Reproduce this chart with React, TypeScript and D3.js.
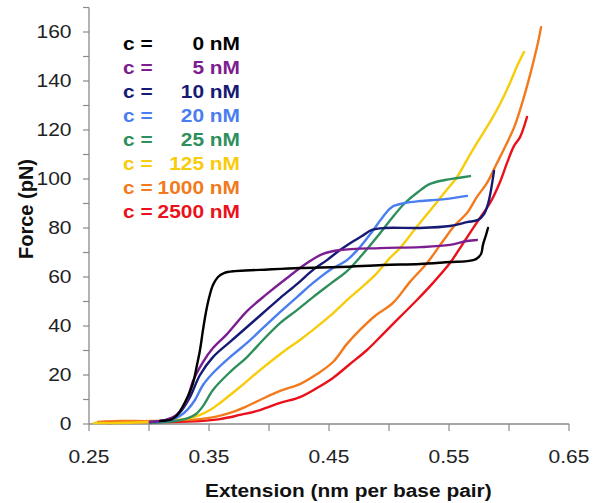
import React from "react";
import * as d3 from "d3";

type P = [number, number];

const seriesNames = ["0 nM", "5 nM", "10 nM", "20 nM", "25 nM", "125 nM", "1000 nM", "2500 nM"];
const seriesColors = ["#000000", "#7c1d91", "#161a74", "#4a7ef0", "#2e8f5c", "#f7cc0a", "#f27a1c", "#ea111b"];

const c0: P[] = [[0.3092,1.2],[0.3192,2.0],[0.3242,4.1],[0.3283,7.3],[0.3325,11.4],[0.3367,16.7],[0.34,24.1],[0.3425,30.2],[0.345,38.4],[0.3475,45.7],[0.35,51.4],[0.3533,56.7],[0.3575,60.0],[0.3625,61.6],[0.3717,62.4],[0.3925,62.9],[0.4258,63.7],[0.4592,64.1],[0.495,64.9],[0.5258,65.3],[0.5508,66.1],[0.565,66.5],[0.5725,67.3],[0.5767,69.4],[0.5783,73.1],[0.5808,77.1],[0.5825,80.0]];
const c5: P[] = [[0.3008,0.8],[0.3133,1.6],[0.3217,3.3],[0.3267,5.7],[0.3317,9.8],[0.3367,17.6],[0.345,25.3],[0.3533,31.0],[0.365,36.7],[0.3817,46.1],[0.3983,53.1],[0.415,59.6],[0.4317,65.7],[0.445,69.4],[0.4592,71.0],[0.4925,71.8],[0.5258,72.2],[0.5508,73.1],[0.565,74.7],[0.5733,75.1]];
const c10: P[] = [[0.3008,0.8],[0.3133,1.6],[0.3217,2.9],[0.3275,5.7],[0.3342,11.0],[0.3425,20.0],[0.3533,27.3],[0.3675,33.5],[0.3817,39.6],[0.395,45.3],[0.4092,51.4],[0.4233,57.1],[0.4367,62.9],[0.4483,66.9],[0.4592,71.0],[0.4692,74.3],[0.4775,76.7],[0.4858,79.2],[0.4967,80.0],[0.5258,80.0],[0.5508,80.8],[0.565,82.4],[0.5742,83.3],[0.5792,85.7],[0.5825,89.8],[0.585,95.5],[0.5875,103.3]];
const c20: P[] = [[0.3008,0.8],[0.3175,1.6],[0.3258,3.3],[0.3325,6.1],[0.3383,9.8],[0.345,15.9],[0.3533,20.8],[0.3675,27.3],[0.3817,33.1],[0.395,39.2],[0.4092,45.7],[0.4233,51.8],[0.4367,57.6],[0.4508,62.9],[0.465,66.9],[0.4758,72.2],[0.4858,78.4],[0.4942,84.1],[0.5025,88.6],[0.5133,90.2],[0.5258,91.0],[0.5467,91.8],[0.565,93.1]];
const c25: P[] = [[0.3008,0.4],[0.3217,1.2],[0.3325,2.4],[0.3392,4.1],[0.345,7.3],[0.3533,13.9],[0.3675,21.2],[0.3817,27.3],[0.395,34.3],[0.4092,41.2],[0.4233,46.5],[0.4367,51.8],[0.4508,57.1],[0.465,62.4],[0.4775,69.0],[0.49,76.3],[0.5025,84.1],[0.5133,90.2],[0.5242,94.7],[0.5342,98.0],[0.5467,99.6],[0.5575,100.4],[0.5675,101.2]];
const c125: P[] = [[0.2542,0.4],[0.2758,0.4],[0.3008,0.8],[0.3217,1.6],[0.3342,2.4],[0.3425,3.7],[0.3508,5.7],[0.3592,8.6],[0.3758,15.1],[0.3925,22.0],[0.4117,29.4],[0.4258,34.3],[0.4367,38.4],[0.4508,44.1],[0.465,50.6],[0.4775,55.9],[0.49,61.6],[0.5008,67.8],[0.5092,71.8],[0.5217,79.6],[0.5367,88.6],[0.5467,94.7],[0.5567,100.8],[0.565,107.8],[0.5733,114.7],[0.5842,123.3],[0.5925,130.6],[0.6008,139.2],[0.6075,146.9],[0.6125,151.8]];
const c1000: P[] = [[0.2575,0.8],[0.2758,1.2],[0.3008,1.2],[0.3258,1.6],[0.3425,2.0],[0.355,2.9],[0.3675,4.5],[0.38,6.9],[0.3925,9.8],[0.4092,13.5],[0.4258,16.3],[0.44,20.4],[0.4533,25.3],[0.465,32.7],[0.4758,38.4],[0.4883,44.1],[0.5033,49.4],[0.5175,58.0],[0.5317,65.7],[0.545,74.7],[0.555,81.2],[0.565,86.1],[0.5733,92.7],[0.5817,98.4],[0.59,106.5],[0.5983,114.7],[0.605,122.0],[0.6117,132.2],[0.6175,142.4],[0.6217,150.6],[0.625,157.6],[0.6267,162.0]];
const c2500: P[] = [[0.2658,0.4],[0.2925,0.8],[0.3175,0.8],[0.3425,1.2],[0.3592,2.0],[0.3758,3.7],[0.3925,5.7],[0.4092,8.6],[0.4258,11.0],[0.44,14.7],[0.4533,18.8],[0.4675,24.5],[0.4817,30.2],[0.495,36.7],[0.5092,43.7],[0.5233,50.6],[0.5367,57.6],[0.5508,65.7],[0.5592,71.8],[0.5675,78.0],[0.5758,84.1],[0.5842,90.2],[0.5925,98.8],[0.5983,106.5],[0.6042,113.5],[0.6092,117.1],[0.615,125.3]];

const seriesData = [c0, c5, c10, c20, c25, c125, c1000, c2500];
// draw order: back to front
const drawOrder = [7, 6, 5, 4, 3, 2, 1, 0];

const xTicks = [0.25, 0.3, 0.35, 0.4, 0.45, 0.5, 0.55, 0.6, 0.65];
const xLabels = [0.25, 0.35, 0.45, 0.55, 0.65];
const yTicks = d3.range(0, 171, 10);
const yLabels = [0, 20, 40, 60, 80, 100, 120, 140, 160];

const FONT = "Liberation Sans, Arial, Helvetica, sans-serif";

function ST(props: { x: number; y: number; sx: number; anchor?: string; size: number; bold?: boolean; fill?: string; children: React.ReactNode }) {
  const { x, y, sx, anchor = "start", size, bold, fill = "#222", children } = props;
  return (
    <g transform={`translate(${x},${y}) scale(${sx},1)`}>
      <text x={0} y={0} textAnchor={anchor as any} fontSize={size} fontWeight={bold ? "bold" : "normal"} fill={fill} fontFamily={FONT}>
        {children}
      </text>
    </g>
  );
}

export default function App() {
  const W = 601, H = 503;
  const x = d3.scaleLinear().domain([0.25, 0.65]).range([89, 569]);
  const y = d3.scaleLinear().domain([0, 170]).range([424, 7.5]);
  const line = d3.line<P>().x(d => x(d[0])).y(d => y(d[1])).curve(d3.curveCatmullRom.alpha(0.5));
  const axisColor = "#8a8a8a";

  return (
    <svg width={W} height={H} style={{ position: "absolute", left: 0, top: 0, background: "#fff" }}>
      {/* axes */}
      <line x1={x(0.25)} x2={x(0.25)} y1={y(170)} y2={y(0)} stroke={axisColor} strokeWidth={1.3} />
      <line x1={x(0.25)} x2={x(0.65)} y1={y(0)} y2={y(0)} stroke={axisColor} strokeWidth={1.3} />
      {yTicks.map(t => (
        <line key={"yt" + t} x1={x(0.25) - 6} x2={x(0.25)} y1={y(t)} y2={y(t)} stroke={axisColor} strokeWidth={1.2} />
      ))}
      {xTicks.map(t => (
        <line key={"xt" + t} x1={x(t)} x2={x(t)} y1={y(0)} y2={y(0) + 7} stroke={axisColor} strokeWidth={1.2} />
      ))}
      {yLabels.map(t => (
        <ST key={"yl" + t} x={71.5} y={y(t) + 6.3} sx={1.2} anchor="end" size={17.5}>{String(t)}</ST>
      ))}
      {xLabels.map(t => (
        <ST key={"xl" + t} x={x(t)} y={463} sx={1.2} anchor="middle" size={17.5}>{t.toFixed(2)}</ST>
      ))}
      {/* axis titles */}
      <ST x={205} y={497} sx={1.13} size={18.5} bold fill="#111">Extension (nm per base pair)</ST>
      <g transform={`translate(33,209) rotate(-90)`}>
        <text x={0} y={0} textAnchor="middle" fontSize={20} fontWeight="bold" fill="#111" fontFamily={FONT}>Force (pN)</text>
      </g>
      {/* curves */}
      {drawOrder.map(i => (
        <path key={"s" + i} d={line(seriesData[i]) || ""} fill="none" stroke={seriesColors[i]} strokeWidth={2.4} strokeLinejoin="round" strokeLinecap="round" />
      ))}
      {/* legend */}
      {seriesNames.map((n, i) => (
        <g key={"lg" + i}>
          <ST x={123} y={49.5 + i * 24.1} sx={1.13} size={18.5} bold fill={seriesColors[i]}>c =</ST>
          <ST x={240} y={49.5 + i * 24.1} sx={1.13} anchor="end" size={18.5} bold fill={seriesColors[i]}>{n}</ST>
        </g>
      ))}
    </svg>
  );
}
